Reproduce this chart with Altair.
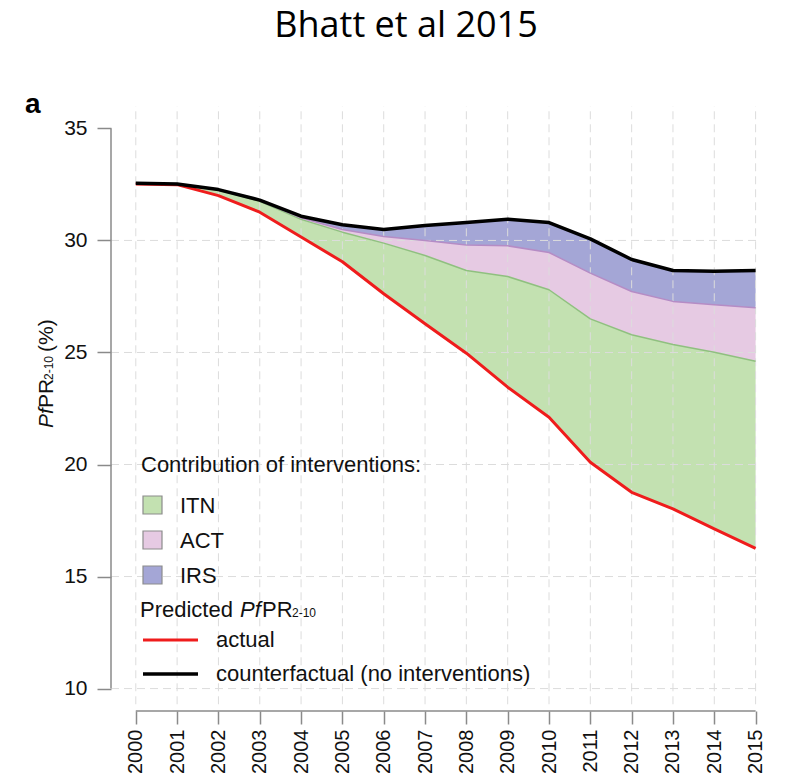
import altair as alt
import pandas as pd

# ---------------- data ----------------
years = list(range(2000, 2016))
counterfactual = [32.55, 32.52, 32.27, 31.80, 31.08, 30.70, 30.49, 30.67,
                  30.80, 30.95, 30.80, 30.07, 29.15, 28.66, 28.62, 28.66]
act_top = [32.55, 32.52, 32.26, 31.78, 31.01, 30.49, 30.18, 30.00,
           29.80, 29.76, 29.46, 28.54, 27.72, 27.28, 27.13, 27.00]
itn_top = [32.55, 32.52, 32.25, 31.75, 30.94, 30.37, 29.88, 29.33,
           28.66, 28.39, 27.80, 26.50, 25.79, 25.36, 25.01, 24.61]
actual = [32.52, 32.49, 32.00, 31.26, 30.15, 29.05, 27.62, 26.28,
          24.97, 23.45, 22.11, 20.10, 18.76, 18.02, 17.13, 16.26]
y_ticks = [10, 15, 20, 25, 30, 35]
grid_y = [10, 15, 20, 25, 30]
interventions = ["ITN", "ACT", "IRS"]
fills = ["#c3e1b1", "#e6cae3", "#a4a6d6"]
edge_colors = ["#8fc07f", "#b58cc5"]
line_labels = ["actual", "counterfactual (no interventions)"]
line_colors = ["#ef1c1c", "#000000"]

df = pd.DataFrame({"year": years, "cf": counterfactual, "act": act_top,
                   "itn": itn_top, "actual": actual})

# ---------------- layout ----------------
X0, X1 = 1999.4, 2015.3
Y0, Y1 = 9, 36
W, H = 657, 605
OX, OY = 111, 106          # page position of the plot origin
FONT = "Liberation Sans"

xs = alt.Scale(domain=[X0, X1], nice=False, zero=False)
ys = alt.Scale(domain=[Y0, Y1], nice=False, zero=False)
xaxis = alt.Axis(values=years, title=None, domain=False, grid=False, tickSize=13,
                 tickColor="#8a8a8a", tickWidth=1.5, labelFontSize=20, labelFont=FONT,
                 labelColor="#111", labelAngle=270, labelPadding=5, format="d",
                 labelOverlap=False, labelFlush=False)
yaxis = alt.Axis(values=y_ticks, title=None, domain=False, grid=False, tickSize=14,
                 tickColor="#8a8a8a", tickWidth=1.5, labelFontSize=21, labelFont=FONT,
                 labelColor="#111", labelPadding=10, format="d")

X = lambda f: alt.X(f, scale=xs, axis=xaxis)
Y = lambda f: alt.Y(f, scale=ys, axis=yaxis)

base = alt.Chart(df)
one = alt.Data(values=[{"k": 0}])


def area(lo, hi, color):
    return base.mark_area(color=color, opacity=1).encode(
        x=X("year:Q"), y=Y(f"{lo}:Q"), y2=f"{hi}:Q")


def line(field, color, width):
    return base.mark_line(color=color, strokeWidth=width, strokeJoin="round").encode(
        x=X("year:Q"), y=Y(f"{field}:Q"))


def txt(s, px, py, size, **kw):
    opts = dict(text=s, align="left", baseline="alphabetic", fontSize=size,
                font=FONT, color="#111")
    opts.update(kw)
    return alt.Chart(one).mark_text(**opts).encode(
        x=alt.value(px - OX), y=alt.value(py - OY))


layers = [
    area("actual", "itn", fills[0]),
    area("itn", "act", fills[1]),
    area("act", "cf", fills[2]),
]

# dashed grid drawn over the fills
vgrid = base.mark_rule(color="#dcdcdc", strokeWidth=1, strokeDash=[8, 5]).encode(
    x=X("year:Q"), y=alt.datum(9.3, scale=ys, axis=yaxis), y2=alt.datum(36))
hgrid = alt.Chart(pd.DataFrame({"v": grid_y})).mark_rule(
    color="#dcdcdc", strokeWidth=1, strokeDash=[8, 5]).encode(
    y=Y("v:Q"), x=alt.datum(X0, scale=xs, axis=xaxis), x2=alt.datum(2015.05))
layers += [vgrid, hgrid]

layers += [
    line("itn", edge_colors[0], 1.5),
    line("act", edge_colors[1], 1.5),
    line("actual", line_colors[0], 3),
    line("cf", line_colors[1], 3.5),
]

# R-style axis lines spanning only the tick range
yline = alt.Chart(one).mark_rule(color="#8a8a8a", strokeWidth=1.5).encode(
    x=alt.datum(X0, scale=xs, axis=xaxis), y=alt.datum(10, scale=ys, axis=yaxis),
    y2=alt.datum(35))
xline = alt.Chart(one).mark_rule(color="#8a8a8a", strokeWidth=1.5).encode(
    y=alt.datum(Y0, scale=ys, axis=yaxis), x=alt.datum(2000, scale=xs, axis=xaxis),
    x2=alt.datum(2015))
layers += [yline, xline]

# title and panel letter
layers.append(txt("Bhatt et al 2015", 406, 37, 36, font="Open Sans", align="center", color="#000"))
layers.append(txt("a", 25, 113, 28, fontWeight="bold", color="#000"))

# y-axis title: PfPR2-10 (%)
layers.append(txt("Pf", 53, 428, 21, fontStyle="italic", angle=270))
layers.append(txt("PR", 53, 408, 21, angle=270))
layers.append(txt("2-10", 53, 380, 12, angle=270))
layers.append(txt("(%)", 53, 352, 21, angle=270))

# legend
layers.append(txt("Contribution of interventions:", 141, 472, 22))
for i, (lab, col) in enumerate(zip(interventions, fills)):
    cy = 505 + 35 * i
    layers.append(alt.Chart(one).mark_rect(fill=col, stroke="#8c8c8c", strokeWidth=1.2).encode(
        x=alt.value(143 - OX), x2=alt.value(162 - OX),
        y=alt.value(cy - 9 - OY), y2=alt.value(cy + 9 - OY)))
    layers.append(txt(lab, 180, cy + 8, 22))

layers.append(txt("Predicted ", 140, 617, 22))
layers.append(txt("Pf", 240, 617, 22, fontStyle="italic"))
layers.append(txt("PR", 262, 617, 22))
layers.append(txt("2-10", 292, 617, 12))
for i, (lab, col) in enumerate(zip(line_labels, line_colors)):
    ly = 640 + 34 * i
    layers.append(alt.Chart(one).mark_rule(color=col, strokeWidth=3 if i == 0 else 3.5).encode(
        x=alt.value(143 - OX), x2=alt.value(198 - OX), y=alt.value(ly - OY)))
    layers.append(txt(lab, 216, ly + 7, 22))

chart = alt.layer(*layers).properties(
    width=W, height=H,
    autosize=alt.AutoSizeParams(type="none"),
    padding={"left": OX - 8, "top": OY - 8, "right": 8, "bottom": 62},
    background="white",
).configure_view(stroke=None)

chart.save("out.html", embed_options={"renderer": "svg", "actions": False})
